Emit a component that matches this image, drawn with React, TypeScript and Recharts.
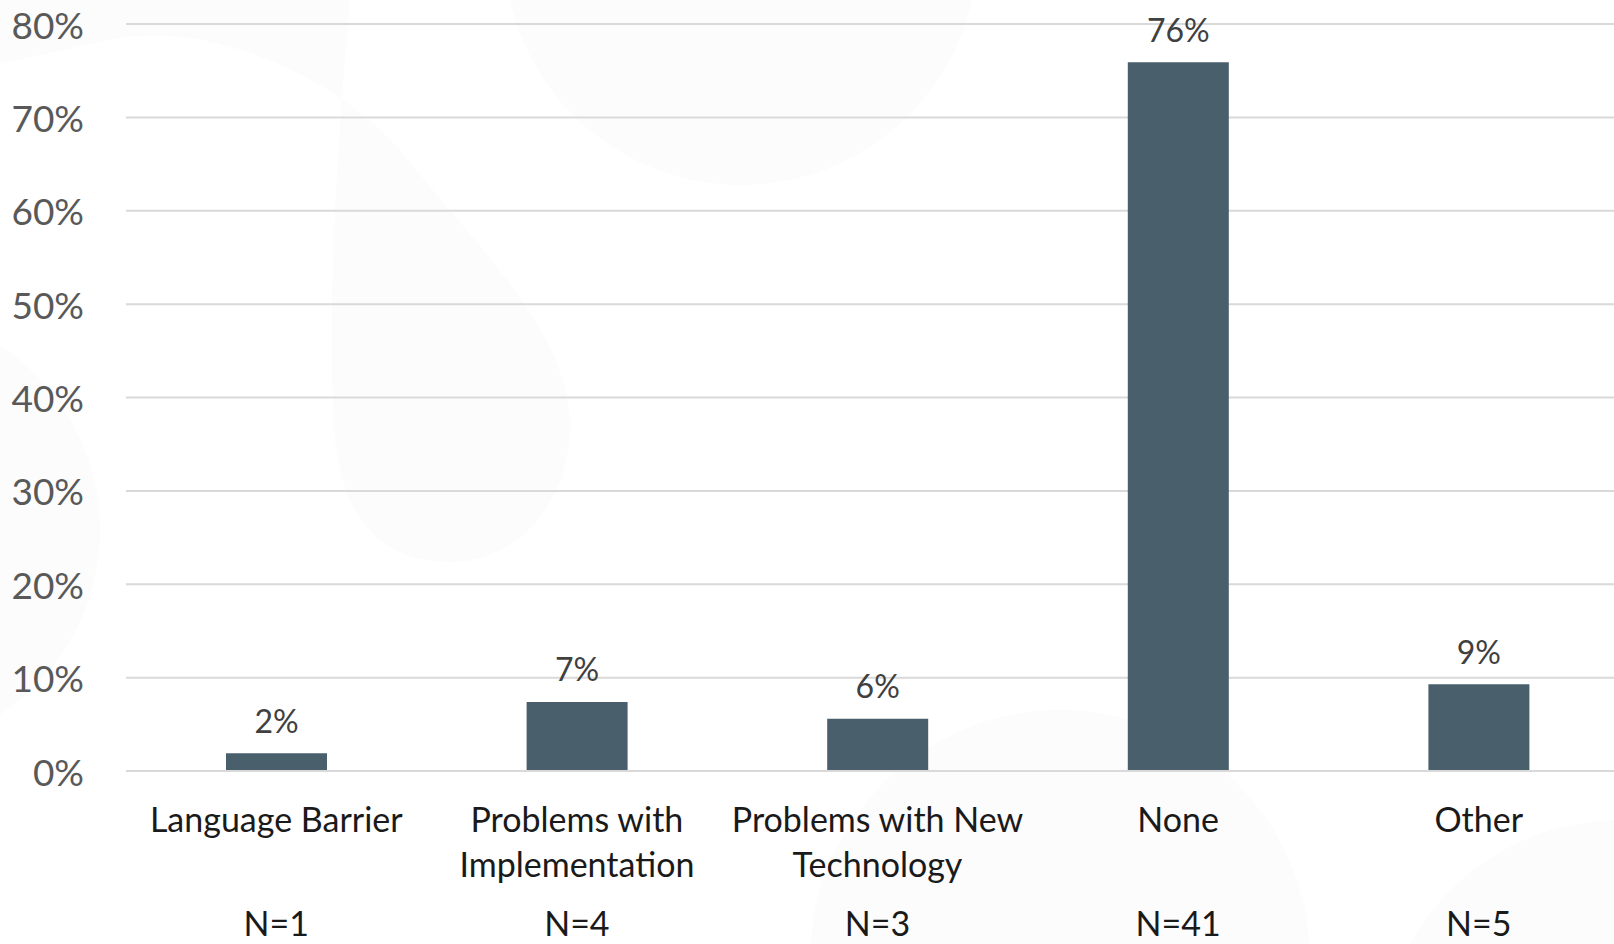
import { Bar, BarChart, CartesianGrid, LabelList, XAxis, YAxis } from "recharts";

const categories = [
  ["Language Barrier"],
  ["Problems with", "Implementation"],
  ["Problems with New", "Technology"],
  ["None"],
  ["Other"],
];
const counts = ["N=1", "N=4", "N=3", "N=41", "N=5"];
const shares = [1.9, 7.4, 5.6, 75.9, 9.3];
const yTicks = [0, 10, 20, 30, 40, 50, 60, 70, 80];

const FONT = "Lato, 'Open Sans', sans-serif";

const data = categories.map((lines, i) => ({
  key: lines.join(" "),
  share: shares[i],
}));

function CategoryTick({ x, y, index }: any) {
  const lines = categories[index] ?? [];
  return (
    <g>
      {lines.map((line, i) => (
        <text
          key={line}
          x={x}
          y={y + 45 + i * 45}
          textAnchor="middle"
          dominantBaseline="central"
          fill="#1a1a1a"
          fontSize={34}
          fontFamily={FONT}
        >
          {line}
        </text>
      ))}
      <text
        x={x}
        y={y + 149}
        textAnchor="middle"
        dominantBaseline="central"
        fill="#1a1a1a"
        fontSize={34}
        fontFamily={FONT}
      >
        {counts[index]}
      </text>
    </g>
  );
}

function PercentTick({ x, y, payload }: any) {
  return (
    <text
      x={x - 40}
      y={y}
      textAnchor="end"
      dominantBaseline="central"
      fill="#595959"
      fontSize={37}
      fontFamily={FONT}
    >
      {`${payload.value}%`}
    </text>
  );
}

function ValueLabel({ x, y, width, value }: any) {
  return (
    <text
      x={x + width / 2}
      y={y - 33}
      textAnchor="middle"
      dominantBaseline="central"
      fill="#404040"
      fontSize={32}
      fontFamily={FONT}
    >
      {`${Math.round(value)}%`}
    </text>
  );
}

function Backdrop() {
  const fill = "#fcfcfc";
  return (
    <svg
      width={1614}
      height={944}
      style={{ position: "absolute", left: 0, top: 0 }}
    >
      <path
        d="M0,0 L350,0 C340,120 325,300 335,440 C345,530 390,562 450,562 C520,562 572,500 570,420 C566,330 480,250 400,150 C330,70 200,20 110,40 C60,50 20,60 0,64 Z"
        fill={fill}
      />
      <circle cx={741} cy={-52} r={237} fill={fill} />
      <circle cx={-120} cy={530} r={220} fill={fill} />
      <circle cx={1060} cy={960} r={250} fill={fill} />
      <circle cx={1620} cy={1060} r={240} fill={fill} />
    </svg>
  );
}

export default function App() {
  return (
    <div
      style={{
        position: "fixed",
        left: 0,
        top: 0,
        width: 1614,
        height: 944,
        overflow: "hidden",
        background: "#ffffff",
      }}
    >
      <Backdrop />
      <div style={{ position: "absolute", left: 0, top: 0 }}>
        <BarChart
          width={1640}
          height={944}
          data={data}
          margin={{ top: 24, right: 11, bottom: 143, left: 0 }}
        >
          <CartesianGrid
            vertical={false}
            stroke="#d9d9d9"
            strokeWidth={2}
          />
          <XAxis
            dataKey="key"
            height={30}
            axisLine={{ stroke: "#d9d9d9", strokeWidth: 2 }}
            tickLine={false}
            tickSize={0}
            interval={0}
            tick={<CategoryTick />}
          />
          <YAxis
            width={126}
            domain={[0, 80]}
            ticks={yTicks}
            axisLine={false}
            tickLine={false}
            tickSize={0}
            tick={<PercentTick />}
          />
          <Bar
            dataKey="share"
            fill="#4a5f6c"
            barSize={101}
            isAnimationActive={false}
          >
            <LabelList dataKey="share" content={<ValueLabel />} />
          </Bar>
        </BarChart>
      </div>
    </div>
  );
}
